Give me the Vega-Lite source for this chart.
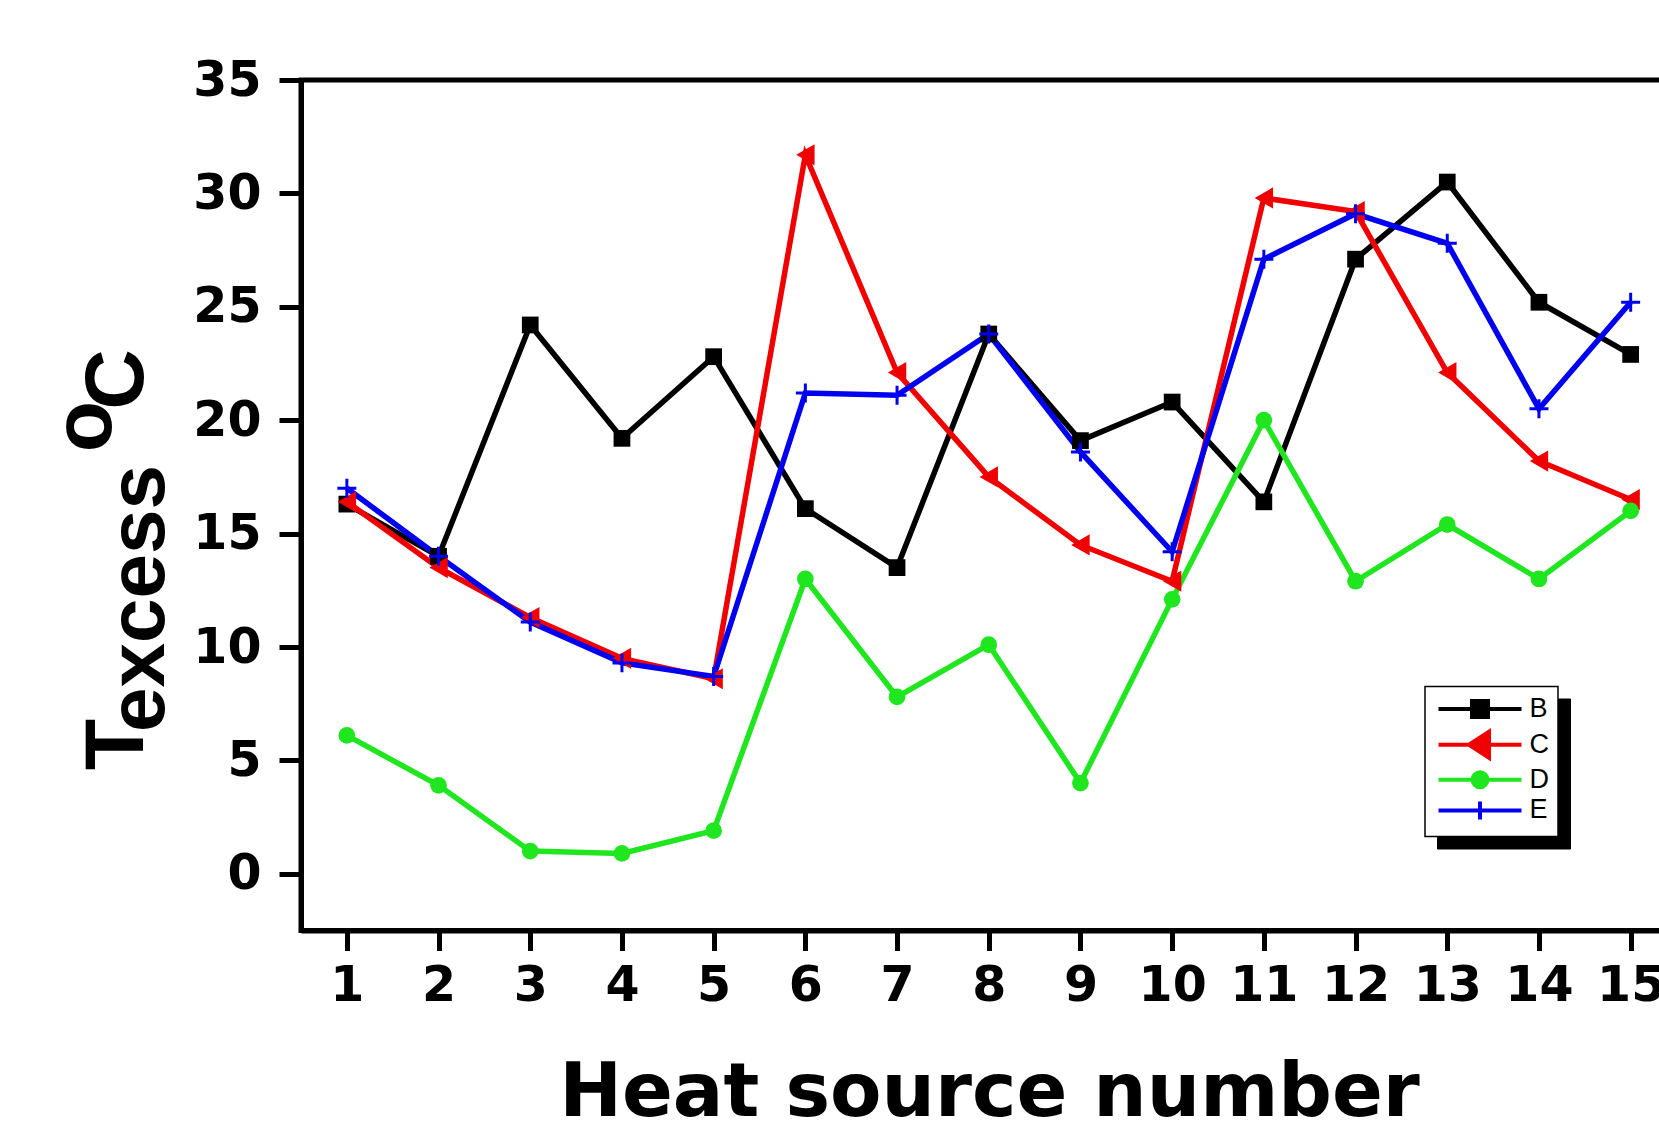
{
  "$schema": "https://vega.github.io/schema/vega-lite/v6.json",
  "width": 1375.5,
  "height": 850.5,
  "autosize": {"type": "none"},
  "padding": {"left": 301, "top": 80, "right": 0, "bottom": 196},
  "background": "white",
  "config": {
    "view": {"stroke": "black", "strokeWidth": 5},
    "axis": {
      "domainColor": "black", "domainWidth": 5, "tickColor": "black", "tickWidth": 5,
      "grid": false, "labelColor": "black", "titleColor": "black",
      "labelFont": "DejaVu Sans", "labelFontWeight": "bold", "labelFontSize": 49
    }
  },
  "data": {"values": [
    {"n":1,"s":"B","v":16.3},{"n":2,"s":"B","v":14.0},{"n":3,"s":"B","v":24.2},{"n":4,"s":"B","v":19.2},{"n":5,"s":"B","v":22.8},
    {"n":6,"s":"B","v":16.1},{"n":7,"s":"B","v":13.5},{"n":8,"s":"B","v":23.8},{"n":9,"s":"B","v":19.1},{"n":10,"s":"B","v":20.8},
    {"n":11,"s":"B","v":16.4},{"n":12,"s":"B","v":27.1},{"n":13,"s":"B","v":30.5},{"n":14,"s":"B","v":25.2},{"n":15,"s":"B","v":22.9},
    {"n":1,"s":"C","v":16.4},{"n":2,"s":"C","v":13.5},{"n":3,"s":"C","v":11.3},{"n":4,"s":"C","v":9.5},{"n":5,"s":"C","v":8.6},
    {"n":6,"s":"C","v":31.7},{"n":7,"s":"C","v":22.1},{"n":8,"s":"C","v":17.5},{"n":9,"s":"C","v":14.5},{"n":10,"s":"C","v":12.9},
    {"n":11,"s":"C","v":29.8},{"n":12,"s":"C","v":29.2},{"n":13,"s":"C","v":22.1},{"n":14,"s":"C","v":18.2},{"n":15,"s":"C","v":16.5},
    {"n":1,"s":"D","v":6.1},{"n":2,"s":"D","v":3.9},{"n":3,"s":"D","v":1.0},{"n":4,"s":"D","v":0.9},{"n":5,"s":"D","v":1.9},
    {"n":6,"s":"D","v":13.0},{"n":7,"s":"D","v":7.8},{"n":8,"s":"D","v":10.1},{"n":9,"s":"D","v":4.0},{"n":10,"s":"D","v":12.1},
    {"n":11,"s":"D","v":20.0},{"n":12,"s":"D","v":12.9},{"n":13,"s":"D","v":15.4},{"n":14,"s":"D","v":13.0},{"n":15,"s":"D","v":16.0},
    {"n":1,"s":"E","v":17.0},{"n":2,"s":"E","v":14.0},{"n":3,"s":"E","v":11.1},{"n":4,"s":"E","v":9.3},{"n":5,"s":"E","v":8.7},
    {"n":6,"s":"E","v":21.2},{"n":7,"s":"E","v":21.1},{"n":8,"s":"E","v":23.8},{"n":9,"s":"E","v":18.6},{"n":10,"s":"E","v":14.2},
    {"n":11,"s":"E","v":27.1},{"n":12,"s":"E","v":29.1},{"n":13,"s":"E","v":27.8},{"n":14,"s":"E","v":20.5},{"n":15,"s":"E","v":25.2}
  ]},
  "encoding": {
    "x": {
      "field": "n", "type": "quantitative",
      "scale": {"domain": [0.5, 15.5], "nice": false, "zero": false},
      "axis": {
        "values": [1,2,3,4,5,6,7,8,9,10,11,12,13,14,15], "format": "d",
        "tickSize": 20, "labelPadding": 11, "labelFlush": false, "labelOverlap": false,
        "title": "Heat source number", "titleFont": "DejaVu Sans", "titleFontWeight": "bold",
        "titleFontSize": 75, "titleX": 688, "titleY": 185, "titleAlign": "center", "titleBaseline": "alphabetic"
      }
    }
  },
  "layer": [
    {
      "mark": {"type": "line", "strokeWidth": 5.5},
      "encoding": {
        "y": {
          "field": "v", "type": "quantitative",
          "scale": {"domain": [-2.5, 35], "nice": false, "zero": false},
          "axis": {
            "orient": "left", "values": [0,5,10,15,20,25,30,35], "tickSize": 22, "labelPadding": 18,
            "title": "T", "titleFont": "Liberation Sans", "titleFontWeight": "bold", "titleFontSize": 84,
            "titleAngle": 270, "titleX": -159, "titleY": 664, "titleAlign": "center", "titleBaseline": "alphabetic"
          }
        },
        "color": {
          "field": "s", "type": "nominal",
          "scale": {"range": ["#000000", "#f00000", "#20e620", "#0000f0"]},
          "legend": {
            "orient": "none", "legendX": 1124, "legendY": 606.5, "title": null, "zindex": 1,
            "padding": 9, "fillColor": "white", "strokeColor": "black",
            "symbolSize": 400, "symbolStrokeWidth": 4, "symbolOffset": 32.5, "labelOffset": 36,
            "labelFont": "Liberation Sans", "labelFontSize": 27, "labelColor": "black", "rowPadding": -2.3,
            "labelExpr": "datum.label + '  '",
            "encode": {
              "legend": {"update": {"strokeWidth": {"value": 1.5}}},
              "symbols": {"update": {
                "shape": {"signal": "datum.value === 'B' ? 'M-4.15,0H4.15M-0.8,-0.8H0.8V0.8H-0.8Z' : datum.value === 'C' ? 'M-4.15,0H4.15M-1.1,0L0.9,-1.3L0.9,1.3Z' : datum.value === 'D' ? 'M-4.15,0H4.15M-0.75,0A0.75,0.75,0,1,0,0.75,0A0.75,0.75,0,1,0,-0.75,0Z' : 'M-4.15,0H4.15M0,-0.9V0.9'"},
                "fill": {"signal": "datum.value === 'B' ? '#000000' : datum.value === 'C' ? '#f00000' : datum.value === 'D' ? '#20e620' : '#0000f0'"},
                "stroke": {"signal": "datum.value === 'B' ? '#000000' : datum.value === 'C' ? '#f00000' : datum.value === 'D' ? '#20e620' : '#0000f0'"},
                "strokeWidth": {"value": 4},
                "opacity": {"value": 1}
              }}
            }
          }
        },
        "opacity": {
          "field": "s", "type": "nominal",
          "scale": {"domain": ["B", "C", "D", "E"], "range": [1, 1, 1, 1]},
          "legend": {
            "orient": "none", "legendX": 1136, "legendY": 618.5, "title": null, "zindex": 0,
            "padding": 9, "fillColor": "black", "strokeColor": "black",
            "symbolSize": 400, "symbolStrokeWidth": 4, "symbolOffset": 32.5, "labelOffset": 36,
            "labelFont": "Liberation Sans", "labelFontSize": 27, "labelColor": "black", "rowPadding": -2.3,
            "labelExpr": "datum.label + '  '",
            "encode": {
              "symbols": {"update": {
                "shape": {"signal": "datum.value === 'B' ? 'M-4.15,0H4.15M-0.8,-0.8H0.8V0.8H-0.8Z' : datum.value === 'C' ? 'M-4.15,0H4.15M-1.1,0L0.9,-1.3L0.9,1.3Z' : datum.value === 'D' ? 'M-4.15,0H4.15M-0.75,0A0.75,0.75,0,1,0,0.75,0A0.75,0.75,0,1,0,-0.75,0Z' : 'M-4.15,0H4.15M0,-0.9V0.9'"},
                "strokeWidth": {"value": 4},
                "opacity": {"value": 0}
              }}
            }
          }
        }
      }
    },
    {
      "transform": [{"filter": "datum.s === 'B'"}],
      "mark": {"type": "point", "shape": "square", "size": 280, "filled": true, "color": "#000000", "opacity": 1},
      "encoding": {
        "y": {
          "field": "v", "type": "quantitative",
          "scale": {"domain": [-2.5, 35], "nice": false, "zero": false},
          "axis": {
            "orient": "left", "domain": false, "ticks": false, "labels": false,
            "title": "excess", "titleFont": "Liberation Sans", "titleFontWeight": "bold", "titleFontSize": 80,
            "titleAngle": 270, "titleX": -138, "titleY": 518, "titleAlign": "center", "titleBaseline": "alphabetic"
          }
        }
      }
    },
    {
      "transform": [{"filter": "datum.s === 'C'"}],
      "mark": {"type": "point", "shape": "triangle-left", "size": 450, "filled": true, "color": "#f00000", "opacity": 1},
      "encoding": {
        "y": {
          "field": "v", "type": "quantitative",
          "scale": {"domain": [-2.5, 35], "nice": false, "zero": false},
          "axis": {
            "orient": "left", "domain": false, "ticks": false, "labels": false,
            "title": "o", "titleFont": "Liberation Sans", "titleFontWeight": "bold", "titleFontSize": 84,
            "titleAngle": 270, "titleX": -191, "titleY": 346, "titleAlign": "center", "titleBaseline": "alphabetic"
          }
        }
      }
    },
    {
      "transform": [{"filter": "datum.s === 'D'"}],
      "mark": {"type": "point", "shape": "circle", "size": 280, "filled": true, "color": "#20e620", "opacity": 1},
      "encoding": {
        "y": {
          "field": "v", "type": "quantitative",
          "scale": {"domain": [-2.5, 35], "nice": false, "zero": false},
          "axis": {
            "orient": "left", "domain": false, "ticks": false, "labels": false,
            "title": "C", "titleFont": "Liberation Sans", "titleFontWeight": "bold", "titleFontSize": 84,
            "titleAngle": 270, "titleX": -159, "titleY": 299, "titleAlign": "center", "titleBaseline": "alphabetic"
          }
        }
      }
    },
    {
      "transform": [{"filter": "datum.s === 'E'"}],
      "mark": {"type": "point", "shape": "M-1,0H1M0,-1V1", "size": 360, "filled": false, "color": "#0000f0", "strokeWidth": 3, "opacity": 1},
      "encoding": {
        "y": {
          "field": "v", "type": "quantitative",
          "scale": {"domain": [-2.5, 35], "nice": false, "zero": false},
          "axis": null
        }
      }
    }
  ],
  "resolve": {"scale": {"y": "independent"}, "axis": {"y": "independent"}}
}
